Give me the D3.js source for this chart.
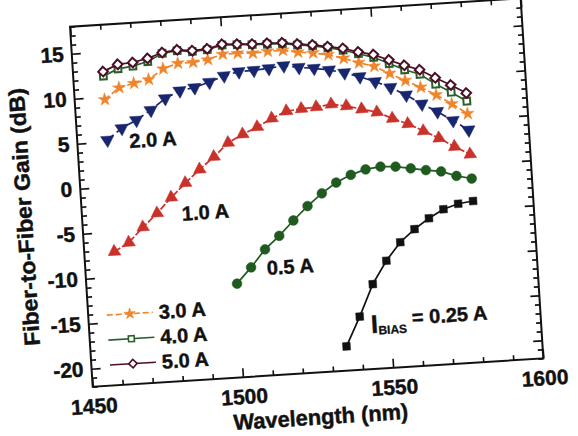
<!DOCTYPE html>
<html>
<head>
<meta charset="utf-8">
<script src="https://cdn.jsdelivr.net/npm/d3@7"></script>
<style>
  body { margin: 0; background: #fff; }
  svg { font-family: "Liberation Sans", Arial, sans-serif; font-weight: bold; }
</style>
</head>
<body>
<div id="chart"></div>
<script>
// wavelengths (nm)
var wavelength = [1460, 1465, 1470, 1475, 1480, 1485, 1490, 1495, 1500, 1505, 1510, 1515, 1520,
                  1525, 1530, 1535, 1540, 1545, 1550, 1555, 1560, 1565, 1570, 1575, 1580];
var wavelength05 = [1500, 1505, 1510, 1515, 1520, 1525, 1530, 1535, 1540, 1545, 1550, 1555, 1560,
                    1565, 1570, 1575, 1580];
var wavelength025 = [1535, 1540, 1545, 1550, 1555, 1560, 1565, 1570, 1575, 1580];

// gain (dB) per bias current
var gain50 = [12.8, 13.5, 13.6, 13.95, 14.5, 14.7, 14.5, 14.6, 15.0, 14.9, 14.8, 14.8, 14.75,
              14.5, 14.3, 14.0, 13.7, 13.2, 12.8, 12.1, 11.4, 10.8, 9.8, 8.9, 7.9];
var gain40 = [12.3, 13.0, 13.2, 13.6, 14.4, 14.6, 14.4, 14.5, 14.9, 14.85, 14.75, 14.7, 14.65,
              14.4, 14.2, 13.9, 13.5, 13.0, 12.5, 11.7, 10.9, 10.3, 9.1, 8.1, 7.0];
var gain30 = [9.7, 10.9, 11.3, 11.6, 12.7, 13.2, 13.2, 13.4, 13.9, 13.9, 13.8, 13.9, 13.9,
              13.6, 13.4, 13.1, 12.6, 12.0, 11.5, 10.6, 9.7, 8.85, 7.9, 6.8, 5.6];
var gain20 = [5.2, 6.4, 7.2, 8.2, 9.4, 10.15, 10.4, 10.9, 11.5, 11.85, 11.9, 12.0, 12.2,
              11.9, 11.7, 11.4, 11.0, 10.45, 9.8, 9.05, 8.1, 7.0, 6.05, 4.95, 3.8];
var gain10 = [-7.2, -6.3, -4.7, -3.25, -1.6, -0.1, 1.3, 2.6, 4.05, 4.9, 5.6, 6.45, 7.15,
              7.3, 7.4, 7.6, 7.3, 6.85, 6.4, 5.6, 4.9, 4.0, 3.1, 2.05, 1.1];
var gain05 = [-11.6, -9.9, -8.0, -6.6, -5.0, -3.5, -2.2, -1.1, -0.35, 0.15, 0.35, 0.25, -0.05,
              -0.35, -0.6, -1.2, -1.6];
var gain025 = [-19.3, -16.1, -12.6, -10.1, -8.15, -6.8, -5.7, -4.8, -4.3, -4.1];

var xTicks = [1450, 1500, 1550, 1600];
var yTicks = [-20, -15, -10, -5, 0, 5, 10, 15];

var width = 578, height = 436;
var W = 451.5, H = 360.7;

var x = d3.scaleLinear().domain([1450, 1600]).range([0, W]);
var y = d3.scaleLinear().domain([-22, 18]).range([H, 0]);

var svg = d3.select("#chart").append("svg")
    .attr("width", width)
    .attr("height", height);

// the whole figure is slightly tilted
var g = svg.append("g")
    .attr("transform", "translate(92.7,386.7) rotate(-3.6) translate(0," + (-H) + ")");

var xMinor = d3.range(1450, 1601, 10).filter(function(d) { return xTicks.indexOf(d) < 0; });
var yMinor = d3.range(-22, 19, 1).filter(function(d) { return yTicks.indexOf(d) < 0; });

function boldText(sel, size) {
  sel.attr("font-size", size).attr("fill", "#111")
    .attr("stroke", "#111").attr("stroke-width", 0.45)
    .attr("font-family", "Liberation Sans, Arial, sans-serif").attr("font-weight", "bold");
}

function styleAxis(sel) {
  sel.select(".domain").remove();
  sel.selectAll("line").attr("stroke", "#111").attr("stroke-width", 1.6);
  sel.selectAll("text").call(boldText, 21);
}

var hyphen = function(d) { return String(d); };

g.append("g").attr("transform", "translate(0," + H + ")")
  .call(d3.axisBottom(x).tickValues(xTicks).tickSize(-9).tickPadding(12).tickFormat(hyphen))
  .call(styleAxis);
g.append("g").attr("transform", "translate(0," + H + ")")
  .call(d3.axisBottom(x).tickValues(xMinor).tickSize(-5).tickFormat(""))
  .call(styleAxis);
g.append("g")
  .call(d3.axisTop(x).tickValues(xTicks).tickSize(-9).tickFormat(""))
  .call(styleAxis);
g.append("g")
  .call(d3.axisTop(x).tickValues(xMinor).tickSize(-5).tickFormat(""))
  .call(styleAxis);

g.append("g")
  .call(d3.axisLeft(y).tickValues(yTicks).tickSize(-9).tickPadding(8).tickFormat(hyphen))
  .call(styleAxis);
g.append("g")
  .call(d3.axisLeft(y).tickValues(yMinor).tickSize(-5).tickFormat(""))
  .call(styleAxis);
g.append("g").attr("transform", "translate(" + W + ",0)")
  .call(d3.axisRight(y).tickValues(yTicks).tickSize(-9).tickFormat(""))
  .call(styleAxis);
g.append("g").attr("transform", "translate(" + W + ",0)")
  .call(d3.axisRight(y).tickValues(yMinor).tickSize(-5).tickFormat(""))
  .call(styleAxis);

g.append("rect")
  .attr("width", W).attr("height", H)
  .attr("fill", "none").attr("stroke", "#111").attr("stroke-width", 2);

// axis titles
g.append("text")
  .attr("x", W / 2).attr("y", H + 52)
  .attr("text-anchor", "middle")
  .attr("textLength", 175).attr("lengthAdjust", "spacingAndGlyphs")
  .call(boldText, 22)
  .text("Wavelength (nm)");
g.append("text")
  .attr("transform", "translate(-50,187) rotate(-90)")
  .attr("text-anchor", "middle")
  .attr("textLength", 258).attr("lengthAdjust", "spacingAndGlyphs")
  .call(boldText, 22)
  .text("Fiber-to-Fiber Gain (dB)");

var series = [
  {name: "0.25 A", xs: wavelength025, ys: gain025, color: "#111111", dash: null, symbol: d3.symbolSquare, size: 58, fill: "#111111", rot: 0},
  {name: "0.5 A", xs: wavelength05, ys: gain05, color: "#1f5a1f", dash: null, symbol: d3.symbolCircle, size: 75, fill: "#1f5a1f", rot: 0},
  {name: "1.0 A", xs: wavelength, ys: gain10, color: "#c8322a", dash: "7,2", symbol: d3.symbolTriangle, size: 70, fill: "#c8322a", rot: 0},
  {name: "2.0 A", xs: wavelength, ys: gain20, color: "#17266e", dash: "8,4", symbol: d3.symbolTriangle, size: 75, fill: "#17266e", rot: 180},
  {name: "3.0 A", xs: wavelength, ys: gain30, color: "#f0842a", dash: "6,3", symbol: d3.symbolStar, size: 52, fill: "#f0842a", rot: 0},
  {name: "4.0 A", xs: wavelength, ys: gain40, color: "#2c5e2c", dash: null, symbol: d3.symbolSquare, size: 45, fill: "#fff", rot: 0},
  {name: "5.0 A", xs: wavelength, ys: gain50, color: "#4a0f26", dash: null, symbol: d3.symbolDiamond2, size: 60, fill: "#fff", rot: 0}
];

var line = d3.line()
  .x(function(d) { return x(d[0]); })
  .y(function(d) { return y(d[1]); });

series.forEach(function(s) {
  var pts = s.xs.map(function(v, i) { return [v, s.ys[i]]; });
  g.append("path")
    .datum(pts)
    .attr("d", line)
    .attr("fill", "none")
    .attr("stroke", s.color)
    .attr("stroke-width", 1.7)
    .attr("stroke-dasharray", s.dash);
  g.selectAll(null)
    .data(pts)
    .enter().append("path")
    .attr("transform", function(d) { return "translate(" + x(d[0]) + "," + y(d[1]) + ") rotate(" + s.rot + ")"; })
    .attr("d", d3.symbol().type(s.symbol).size(s.size)())
    .attr("fill", s.fill)
    .attr("stroke", s.color)
    .attr("stroke-width", s.fill === "#fff" ? 2 : 0.5);
});

// curve labels
var labels = [
  {text: "2.0 A", wl: 1467.3, gain: 4.15},
  {text: "1.0 A", wl: 1483.2, gain: -4.25},
  {text: "0.5 A", wl: 1510.2, gain: -10.86}
];
g.selectAll(".curveLabel")
  .data(labels)
  .enter().append("text")
  .attr("class", "curveLabel")
  .attr("x", function(d) { return x(d.wl); })
  .attr("y", function(d) { return y(d.gain); })
  .call(boldText, 20)
  .text(function(d) { return d.text; });

var bias = g.append("text")
  .attr("x", x(1543.6)).attr("y", y(-18.0))
  .call(boldText, 25);
bias.append("tspan").text("I");
bias.append("tspan").attr("font-size", 12).attr("stroke-width", 0.3).attr("dy", 2).text("BIAS");
bias.append("tspan").attr("font-size", 20).attr("dy", -8).text(" = 0.25 A");

// legend
var legendItems = series.slice(4);
var legend = g.append("g").attr("transform", "translate(18.6," + (H - 70.5) + ")");
legendItems.forEach(function(s, i) {
  var row = legend.append("g").attr("transform", "translate(0," + (i * 25) + ")");
  row.append("line")
    .attr("x1", 0).attr("x2", 46)
    .attr("stroke", s.color).attr("stroke-width", 1.6)
    .attr("stroke-dasharray", s.dash);
  row.append("path")
    .attr("transform", "translate(23,0)")
    .attr("d", d3.symbol().type(s.symbol).size(s.size * 0.75)())
    .attr("fill", s.fill)
    .attr("stroke", s.color)
    .attr("stroke-width", s.fill === "#fff" ? 1.6 : 0.5);
  row.append("text")
    .attr("x", 52).attr("y", 7)
    .call(boldText, 20)
    .text(s.name);
});
</script>
</body>
</html>
